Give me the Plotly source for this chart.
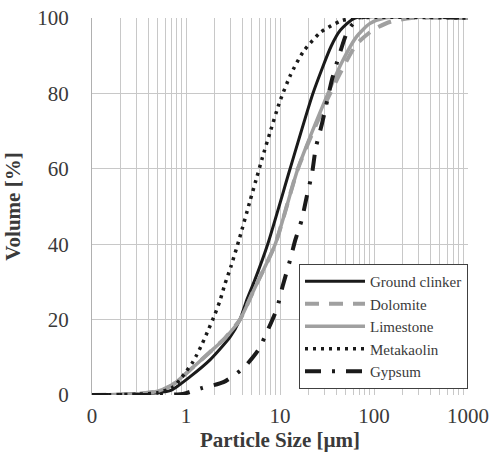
import plotly.graph_objects as go

# Particle size (µm) and cumulative volume (%)
clinker_x = [0.1, 0.3, 0.5, 0.7, 1.1, 1.8, 2.95, 3.75, 4.4, 5.3, 7.4, 12.8, 22.4, 35, 44, 63, 1000]
clinker_y = [0, 0.3, 0.6, 1.3, 4.8, 9.3, 15.4, 20, 25, 30, 40, 60, 80, 92.5, 96.8, 100, 100]

dolomite_x = [0.1, 0.3, 0.5, 0.7, 1.1, 1.8, 2.6, 3.75, 5.3, 8.9, 15.5, 30, 45, 65, 100, 150, 250, 1000]
dolomite_y = [0, 0.3, 1.0, 2.5, 6.6, 11.4, 15.1, 20, 28, 40, 60, 77, 86, 93, 97, 99, 100, 100]

limestone_x = [0.1, 0.3, 0.5, 0.7, 1.1, 1.8, 2.6, 3.75, 5.3, 8.9, 15.5, 30, 45, 65, 90, 130, 1000]
limestone_y = [0, 0.3, 1.0, 2.5, 6.6, 11.4, 15.1, 20, 28, 40, 60, 78, 88, 95, 98.5, 100, 100]

metakaolin_x = [0.1, 0.3, 0.5, 0.72, 0.86, 1.0, 1.15, 1.3, 1.5, 1.75, 2.0, 2.3, 2.6, 3.0, 3.7,
                4.8, 5.7, 6.5, 7.8, 10, 13, 17.6, 27, 44, 60, 1000]
metakaolin_y = [0, 0.2, 0.6, 2, 4, 6.2, 8.3, 10.6, 13.8, 17.6, 21, 25, 29.5, 34, 41.5,
                51.5, 58, 63, 69.5, 78, 85, 91, 96.2, 99.2, 100, 100]

gypsum_x = [0.1, 0.5, 0.87, 1.0, 1.5, 2.5, 4.1, 5.9, 7.5, 9.3, 10.7, 12.8, 14.5, 17, 19.4,
            22, 24, 28, 36, 42, 53, 71, 1000]
gypsum_y = [0, 0, 0.2, 0.5, 1.9, 3.4, 7.2, 12, 17.5, 23, 29, 35.8, 41, 46.4, 53,
            59, 65.5, 72, 84, 89.6, 96.8, 100, 100]

x_tickvals = [0.1, 1, 10, 100, 1000]
x_ticktext = ["0", "1", "10", "100", "1000"]
y_tickvals = [0, 20, 40, 60, 80, 100]

FONT = "Liberation Serif"
TXT = "#3a3a3a"
GRID = "#c8c8c8"

fig = go.Figure()
fig.add_trace(go.Scatter(x=clinker_x, y=clinker_y, name="Ground clinker", mode="lines",
                         line=dict(color="#1a1a1a", width=3, shape="spline", smoothing=0.6)))
fig.add_trace(go.Scatter(x=dolomite_x, y=dolomite_y, name="Dolomite", mode="lines",
                         line=dict(color="#a0a0a0", width=4, dash="14px,10px", shape="spline", smoothing=0.6)))
fig.add_trace(go.Scatter(x=limestone_x, y=limestone_y, name="Limestone", mode="lines",
                         line=dict(color="#a0a0a0", width=3.5, shape="spline", smoothing=0.6)))
fig.add_trace(go.Scatter(x=metakaolin_x, y=metakaolin_y, name="Metakaolin", mode="lines",
                         line=dict(color="#1a1a1a", width=3.5, dash="3px,5px", shape="spline", smoothing=0.6)))
fig.add_trace(go.Scatter(x=gypsum_x, y=gypsum_y, name="Gypsum", mode="lines",
                         line=dict(color="#1a1a1a", width=4, dash="16px,11px,3px,11px", shape="spline", smoothing=0.6)))

fig.update_layout(
    width=495, height=457,
    margin=dict(l=92, r=27, t=18, b=62),
    paper_bgcolor="white", plot_bgcolor="white",
    font=dict(family=FONT, color=TXT, size=20),
    showlegend=True,
    legend=dict(x=1, y=0.016, xanchor="right", yanchor="bottom",
                bgcolor="white", bordercolor="#404040", borderwidth=1,
                font=dict(family=FONT, size=15, color=TXT),
                itemwidth=60,
                traceorder="normal", tracegroupgap=0),
    xaxis=dict(type="log", range=[-1, 3], tickvals=x_tickvals, ticktext=x_ticktext,
               automargin=False,
               showgrid=True, gridcolor=GRID, gridwidth=1,
               minor=dict(dtick="D1", showgrid=True, gridcolor=GRID, gridwidth=1, ticks=""),
               showline=False, zeroline=False, ticks="", ticklabelstandoff=6,
               tickfont=dict(family=FONT, size=21, color=TXT),
               title=dict(text="<b>Particle Size [µm]</b>", standoff=4,
                          font=dict(family=FONT, size=21, color=TXT))),
    yaxis=dict(range=[0, 100], tickvals=y_tickvals,
               automargin=False,
               showgrid=True, gridcolor=GRID, gridwidth=1,
               showline=True, linecolor="#b0b0b0", linewidth=1,
               zeroline=False, ticks="", ticklabelstandoff=18,
               tickfont=dict(family=FONT, size=21, color=TXT),
               title=dict(text="<b>Volume [%]</b>", standoff=10,
                          font=dict(family=FONT, size=21, color=TXT))),
)

fig.write_html("out.html")
